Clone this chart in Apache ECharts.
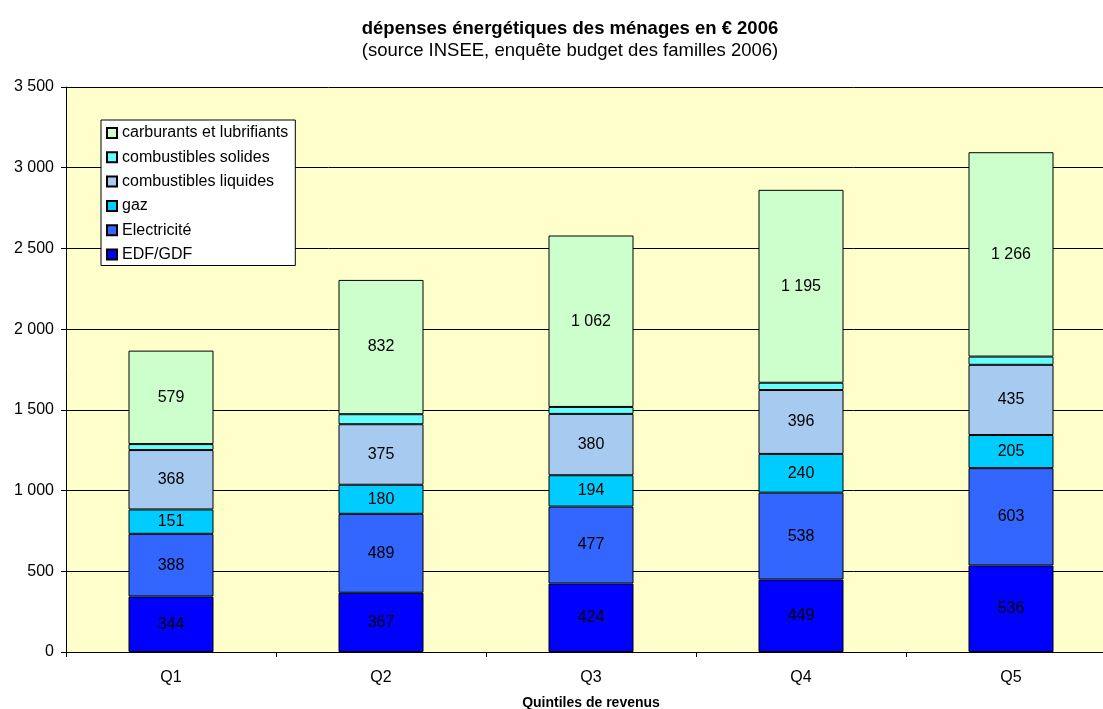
<!DOCTYPE html>
<html>
<head>
<meta charset="utf-8">
<script src="https://cdn.jsdelivr.net/npm/echarts@6/dist/echarts.min.js"></script>
<style>
  html, body { margin: 0; padding: 0; background: #fff; overflow: hidden; }
  /* the plot runs slightly past the right edge of the window */
  #chart { width: 1120px; height: 709px; }
</style>
</head>
<body>
<div id="chart"></div>
<script>
// Household energy spending by income quintile, INSEE 2006 (€)
const categories = ['Q1', 'Q2', 'Q3', 'Q4', 'Q5'];
const edfGdf = [344, 367, 424, 449, 536];
const electricite = [388, 489, 477, 538, 603];
const gaz = [151, 180, 194, 240, 205];
const combLiquides = [368, 375, 380, 396, 435];
const combSolides = [37, 62, 43, 45, 51];
const carburants = [579, 832, 1062, 1195, 1266];
const yTicks = { min: 0, max: 3500, interval: 500 };

const FONT = '"Liberation Sans", Arial, sans-serif';

// French-style thousands separator: 1062 -> "1 062"
function fmt(v) {
  return String(Math.round(v)).replace(/\B(?=(\d{3})+(?!\d))/g, ' ');
}

function stackSeries(name, data, color, showLabel) {
  return {
    name: name,
    type: 'bar',
    stack: 'total',
    data: data,
    barWidth: 85,
    itemStyle: { color: color, borderColor: '#000', borderWidth: 1 },
    label: {
      show: showLabel,
      position: 'inside',
      color: '#000',
      fontFamily: FONT,
      fontSize: 16,
      formatter: p => fmt(p.value)
    },
    emphasis: { disabled: true }
  };
}

const chart = echarts.init(document.getElementById('chart'), null, { renderer: 'canvas' });
chart.setOption({
  animation: false,
  backgroundColor: '#fff',
  title: {
    text: 'dépenses énergétiques des ménages en € 2006',
    subtext: '(source INSEE, enquête budget des familles 2006)',
    left: 570,
    top: 19,
    textAlign: 'center',
    itemGap: 3,
    padding: 0,
    textStyle: { fontFamily: FONT, fontSize: 18.5, fontWeight: 'bold', color: '#000' },
    subtextStyle: { fontFamily: FONT, fontSize: 18.5, color: '#000' }
  },
  legend: {
    orient: 'vertical',
    left: 101,
    top: 120,
    padding: [5, 7, 3, 5],
    backgroundColor: '#fff',
    borderColor: '#000',
    borderWidth: 1,
    itemWidth: 10,
    itemHeight: 10,
    itemGap: 8.3,
    icon: 'rect',
    selectedMode: false,
    textStyle: { fontFamily: FONT, fontSize: 16, color: '#000', lineHeight: 16 },
    data: ['carburants et lubrifiants', 'combustibles solides', 'combustibles liquides', 'gaz', 'Electricité', 'EDF/GDF']
  },
  grid: {
    left: 66,
    top: 87,
    width: 1050,
    height: 565,
    outerBoundsMode: 'none',
    containLabel: false,
    show: true,
    backgroundColor: '#FFFFCC',
    borderWidth: 0
  },
  xAxis: {
    type: 'category',
    data: categories,
    name: 'Quintiles de revenus',
    nameLocation: 'middle',
    nameGap: 44,
    nameTextStyle: { fontFamily: FONT, fontSize: 14, fontWeight: 'bold', color: '#000' },
    axisLine: { lineStyle: { color: '#000', width: 1 } },
    axisTick: { show: true, alignWithLabel: false, length: 5, lineStyle: { color: '#000' } },
    axisLabel: { fontFamily: FONT, fontSize: 16, color: '#000', margin: 18 },
    splitLine: { show: false }
  },
  yAxis: {
    type: 'value',
    min: yTicks.min,
    max: yTicks.max,
    interval: yTicks.interval,
    axisLine: { show: true, lineStyle: { color: '#000', width: 1 } },
    axisTick: { show: true, length: 5, lineStyle: { color: '#000' } },
    axisLabel: { fontFamily: FONT, fontSize: 16, color: '#000', margin: 12, formatter: v => fmt(v) },
    splitLine: { show: true, lineStyle: { color: '#000', width: 1 } }
  },
  series: [
    stackSeries('EDF/GDF', edfGdf, '#0000FF', true),
    stackSeries('Electricité', electricite, '#3366FF', true),
    stackSeries('gaz', gaz, '#00CCFF', true),
    stackSeries('combustibles liquides', combLiquides, '#A6CAF0', true),
    stackSeries('combustibles solides', combSolides, '#66FFFF', false),
    stackSeries('carburants et lubrifiants', carburants, '#CCFFCC', true)
  ]
});
</script>
</body>
</html>
